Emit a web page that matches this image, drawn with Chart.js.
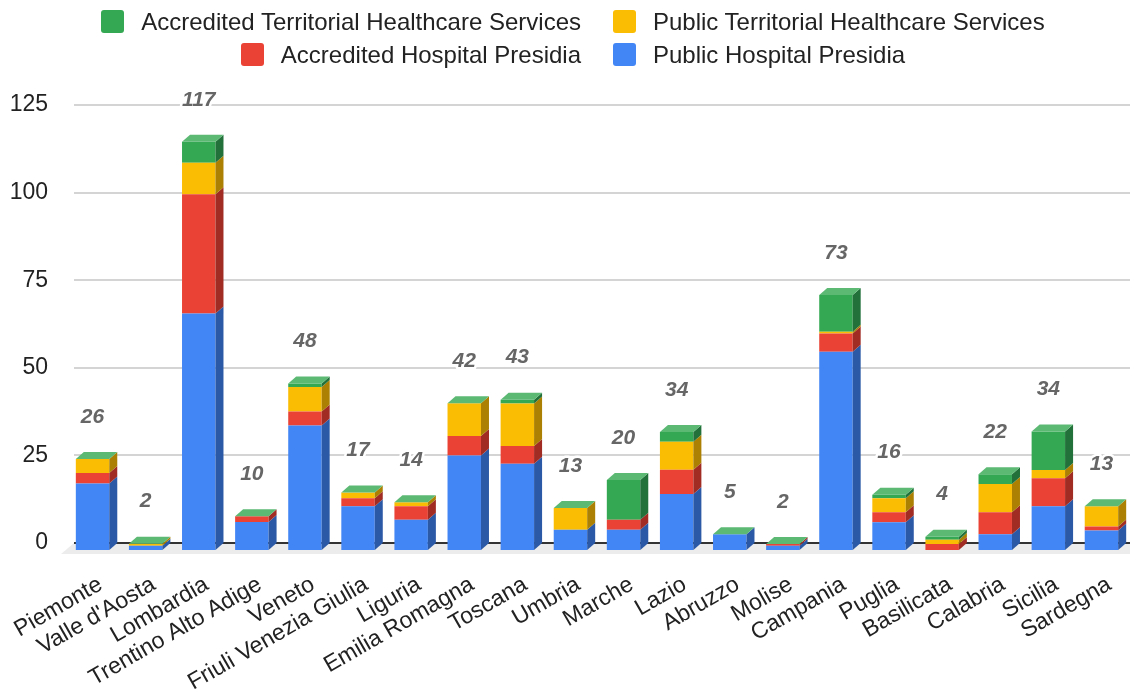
<!DOCTYPE html>
<html>
<head>
<meta charset="utf-8">
<script src="https://cdn.jsdelivr.net/npm/chart.js@4.4.1/dist/chart.umd.min.js"></script>
<style>
  body { margin: 0; background: #fff; font-family: "Liberation Sans", Arial, sans-serif; }
  #wrap { position: relative; width: 1130px; height: 691px; }
  #graphique { position: absolute; left: 0; top: 0; }
  #legende { position: absolute; left: 0; top: 5px; width: 1130px; padding-left: 16px; box-sizing: border-box; }
  .row { display: flex; justify-content: center; gap: 32px; height: 33px; align-items: center; }
  .item { display: flex; align-items: center; font-size: 24px; color: #222; white-space: nowrap; }
  .box { width: 23px; height: 23px; border-radius: 3px; margin-right: 17px; }
</style>
</head>
<body>
<div id="wrap">
  <canvas id="graphique" width="1130" height="691"></canvas>
  <div id="legende"></div>
</div>
<script>
const regions = ['Piemonte', "Valle d'Aosta", 'Lombardia', 'Trentino Alto Adige', 'Veneto',
  'Friuli Venezia Giulia', 'Liguria', 'Emilia Romagna', 'Toscana', 'Umbria', 'Marche', 'Lazio',
  'Abruzzo', 'Molise', 'Campania', 'Puglia', 'Basilicata', 'Calabria', 'Sicilia', 'Sardegna'];

const publicHospital        = [19, 1.2, 67.5, 8, 35.5, 12.5, 8.6, 27, 24.6, 5.8, 5.8, 16, 4.5, 1.2, 56.6, 7.9, 0, 4.5, 12.5, 5.6];
const accreditedHospital    = [3, 0, 34, 1.6, 4, 2.3, 3.9, 5.5, 5.1, 0, 2.8, 6.9, 0, 0.5, 5.2, 2.9, 1.7, 6.3, 8, 1.1];
const publicTerritorial     = [4, 0.6, 9, 0, 7, 1.6, 1.1, 9.4, 12.1, 6.2, 0, 8, 0, 0, 0.5, 4, 1.2, 8, 2.3, 5.8];
const accreditedTerritorial = [0, 0, 6, 0, 1, 0, 0, 0, 1.1, 0, 11.4, 2.8, 0, 0, 10.5, 1, 0.9, 2.8, 11, 0];
const totals = [26, 2, 117, 10, 48, 17, 14, 42, 43, 13, 20, 34, 5, 2, 73, 16, 4, 22, 34, 13];

const yTicks = [0, 25, 50, 75, 100, 125];

const DX = 8, DY = 7; // profondeur 3D
const topColor = '#5bb974';
const police = '"Liberation Sans", Arial, sans-serif';

const box3d = {
  id: 'box3d',
  beforeDatasetsDraw(chart) {
    const { ctx, chartArea: a, scales: { y } } = chart;
    const y0 = y.getPixelForValue(0);
    ctx.save();
    // sol
    ctx.fillStyle = '#ececec';
    ctx.beginPath();
    ctx.moveTo(a.left + DX, y0);
    ctx.lineTo(chart.width, y0);
    ctx.lineTo(chart.width, y0 + 11);
    ctx.lineTo(a.left - 5, y0 + 11);
    ctx.closePath();
    ctx.fill();
    // lignes de grille
    ctx.strokeStyle = '#d4d4d4';
    ctx.lineWidth = 2;
    y.ticks.forEach(t => {
      if (t.value === 0) return;
      const py = Math.round(y.getPixelForValue(t.value));
      ctx.beginPath();
      ctx.moveTo(a.left + DX, py);
      ctx.lineTo(chart.width, py);
      ctx.stroke();
    });
    ctx.strokeStyle = '#333';
    ctx.beginPath();
    ctx.moveTo(a.left + DX, Math.round(y0));
    ctx.lineTo(chart.width, Math.round(y0));
    ctx.stroke();
    ctx.restore();
    ctx.save();
    ctx.translate(0, DY);
  },
  afterDatasetsDraw(chart) {
    const ctx = chart.ctx;
    ctx.restore();
    ctx.save();
    chart.data.datasets.forEach((ds, di) => {
      const meta = chart.getDatasetMeta(di);
      meta.data.forEach(el => {
        const top = Math.min(el.y, el.base), bot = Math.max(el.y, el.base);
        if (bot - top < 0.2) return;
        const xR = el.x + el.width / 2;
        ctx.fillStyle = ds.sideColor;
        ctx.beginPath();
        ctx.moveTo(xR, top + DY);
        ctx.lineTo(xR + DX, top);
        ctx.lineTo(xR + DX, bot);
        ctx.lineTo(xR, bot + DY);
        ctx.closePath();
        ctx.fill();
      });
    });
    const last = chart.getDatasetMeta(chart.data.datasets.length - 1);
    last.data.forEach((el, i) => {
      const xL = el.x - el.width / 2, xR = el.x + el.width / 2;
      const t = el.y;
      ctx.fillStyle = topColor;
      ctx.beginPath();
      ctx.moveTo(xL, t + DY);
      ctx.lineTo(xR, t + DY);
      ctx.lineTo(xR + DX, t);
      ctx.lineTo(xL + DX, t);
      ctx.closePath();
      ctx.fill();
      // total
      ctx.font = 'italic bold 21px ' + police;
      ctx.textAlign = 'center';
      ctx.textBaseline = 'middle';
      ctx.lineJoin = 'round';
      ctx.lineWidth = 5;
      ctx.strokeStyle = '#fff';
      ctx.strokeText(String(totals[i]), el.x, t + DY - 42);
      ctx.fillStyle = '#666';
      ctx.fillText(String(totals[i]), el.x, t + DY - 42);
    });
    ctx.restore();
  }
};

const ctx = document.getElementById('graphique').getContext('2d');

const myChart = new Chart(ctx, {
  type: 'bar',
  data: {
    labels: regions,
    datasets: [
      { label: 'Public Hospital Presidia', data: publicHospital, backgroundColor: '#4285f4', sideColor: '#2c59a6' },
      { label: 'Accredited Hospital Presidia', data: accreditedHospital, backgroundColor: '#ea4335', sideColor: '#a02c24' },
      { label: 'Public Territorial Healthcare Services', data: publicTerritorial, backgroundColor: '#fbbc04', sideColor: '#ab8003' },
      { label: 'Accredited Territorial Healthcare Services', data: accreditedTerritorial, backgroundColor: '#34a853', sideColor: '#22703a' }
    ]
  },
  options: {
    responsive: false,
    animation: false,
    layout: { padding: { top: 105, right: 2, left: 0, bottom: 0 } },
    datasets: { bar: { barPercentage: 0.63, categoryPercentage: 1, clip: false } },
    plugins: { legend: { display: false }, tooltip: { enabled: false } },
    scales: {
      x: {
        stacked: true,
        grid: { display: false },
        border: { display: false },
        ticks: {
          autoSkip: false, maxRotation: 30, minRotation: 30, padding: 20, labelOffset: 8,
          color: '#222', font: { size: 23, family: police }
        },
        afterFit(scale) {
          scale.height = 148;
          scale.paddingLeft = 0;
          scale.paddingRight = 0;
        }
      },
      y: {
        stacked: true,
        min: yTicks[0], max: yTicks[yTicks.length - 1],
        grid: { display: false },
        border: { display: false },
        afterBuildTicks(scale) { scale.ticks = yTicks.map(v => ({ value: v })); },
        ticks: { padding: 10, color: '#222', font: { size: 23, family: police } },
        afterFit(scale) { scale.width = 66; }
      }
    }
  },
  plugins: [box3d]
});

// légende en deux lignes
const ordre = myChart.data.datasets.slice().reverse();
const legende = document.getElementById('legende');
for (let r = 0; r < 2; r++) {
  const row = document.createElement('div');
  row.className = 'row';
  ordre.slice(r * 2, r * 2 + 2).forEach(ds => {
    const item = document.createElement('div');
    item.className = 'item';
    const box = document.createElement('span');
    box.className = 'box';
    box.style.background = ds.backgroundColor;
    item.appendChild(box);
    item.appendChild(document.createTextNode(ds.label));
    row.appendChild(item);
  });
  legende.appendChild(row);
}
</script>
</body>
</html>
